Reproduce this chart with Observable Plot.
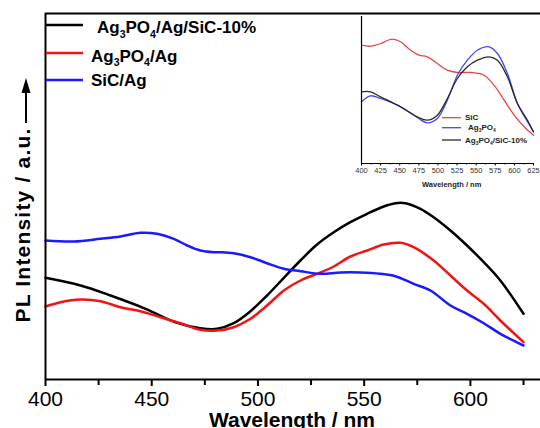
<!DOCTYPE html>
<html><head><meta charset="utf-8">
<script src="https://cdn.jsdelivr.net/npm/d3@7"></script>
<script src="https://cdn.jsdelivr.net/npm/@observablehq/plot@0.6"></script>
<style>
body{margin:0;background:#fff;}
#wrap{position:relative;width:540px;height:428px;overflow:hidden;font-family:"Liberation Sans",Arial,sans-serif;}
#wrap svg{position:absolute;}
</style></head><body><div id="wrap"></div>
<script>
// ---- main chart data (PL intensity, a.u.) ----
const seriesNames = ["Ag3PO4/Ag/SiC-10%", "Ag3PO4/Ag", "SiC/Ag"];
const seriesColors = ["#000000", "#f21414", "#1a1aff"];

const blackWl = [400,416.5,430.6,447.1,461.2,472.9,480.8,488.6,496.5,504.3,512.2,520,527.8,535.7,543.5,551.4,559.2,564.7,569.4,576.5,582.7,590.6,598.4,606.3,614.1,625];
const blackPL = [101.7,94,84,70.7,57.3,51.3,50.7,56.3,68.3,84,101.7,119,135,147.3,157.3,165.7,173,176.3,176.3,170.7,162.3,149,134,117.3,99,65.7];

const redWl = [400,407.1,416.5,425.9,435.3,444.7,454.1,463.5,472.9,480.8,488.6,496.5,504.3,512.2,520,527.8,535.7,543.5,551.4,559.2,567.1,573.3,582.7,590.6,598.4,606.3,614.1,625];
const redPL = [73,77.3,80,78.3,72.3,68.3,62.3,56.3,49.7,49,52.3,60.7,74,89,99,105.7,113,123,129,135,136.7,132.3,119,104,89,75.7,59,37.3];

const blueWl = [400,413.3,425.9,435.3,444.7,452.5,460.4,466.7,472.9,479.2,482.4,488.6,496.5,504.3,512.2,520,529.4,538.8,548.2,557.6,564.7,573.3,581.2,590.6,598.4,606.3,614.1,625];
const bluePL = [139,138,140.7,143,146.7,145.7,140.7,134,129,127.3,127.3,126.3,122.3,116.3,110.7,108.3,105.7,107,107,105.7,103.3,95.7,89,74,65.7,56.3,45.7,34];

const majorTicks = [400,450,500,550,600];
const minorTicks = [425,475,525,575,625];

// ---- inset data ----
const insetNames = ["SiC", "Ag3PO4", "Ag3PO4/SiC-10%"];
const insetColors = ["#e84646", "#4646f0", "#2a2a2a"];

const inSiCWl = [400,411.8,424.9,440.2,451.1,464.2,475.1,486.1,499.2,512.3,525.4,542.9,560.3,573.4,586.6,599.7,612.8,625];
const inSiCPL = [118.3,117.3,120,124.3,121.7,113.3,108.3,106.7,100,93.3,91,91,88.3,78.3,63.3,48.3,36.7,28.3];

const inAgWl = [400,411.8,424.9,451.1,473,486.1,499.2,512.3,525.4,538.5,551.6,566.9,577.8,590.9,604,617.1,625];
const inAgPL = [61.7,67.7,65,56.7,46,40.7,45,63.3,88.3,103.3,113.3,116.7,110,90,60,41.7,31.7];

const inCompWl = [400,411.8,424.9,451.1,473,486.1,499.2,512.3,525.4,538.5,551.6,566.9,577.8,590.9,604,617.1,625];
const inCompPL = [71.7,71.7,66.7,56.7,46.7,43.3,48.3,65,85,96.7,103.3,106.7,103.3,86.7,60,43.3,31.7];

const insetTicks = [400,425,450,475,500,525,550,575,600,625];
const insetMinor = [412.5,437.5,462.5,487.5,512.5,537.5,562.5,587.5,612.5];

// ---- build ----
const rows = (wl, pl, s) => wl.map((w, i) => ({wl: w, pl: pl[i], s}));
const mainData = [
  ...rows(blackWl, blackPL, seriesNames[0]),
  ...rows(redWl, redPL, seriesNames[1]),
  ...rows(blueWl, bluePL, seriesNames[2])
];
const insetData = [
  ...rows(inSiCWl, inSiCPL, insetNames[0]),
  ...rows(inAgWl, inAgPL, insetNames[1]),
  ...rows(inCompWl, inCompPL, insetNames[2])
];
const FONT = '"Liberation Sans", Arial, sans-serif';

const main = Plot.plot({
  width: 540, height: 428,
  marginLeft: 45, marginRight: 0, marginTop: 13, marginBottom: 49,
  style: {fontFamily: FONT, background: "white", overflow: "visible"},
  x: {domain: [400, 633]},
  y: {domain: [0, 366], axis: null},
  color: {domain: seriesNames, range: seriesColors},
  marks: [
    Plot.line(mainData, {x: "wl", y: "pl", z: "s", stroke: "s", strokeWidth: 2.5, curve: "catmull-rom"}),
    Plot.ruleY([0], {strokeWidth: 2}),
    Plot.ruleY([366], {strokeWidth: 2}),
    Plot.ruleX([400], {strokeWidth: 2}),
    Plot.axisX(majorTicks, {tickSize: 7, tickPadding: 5, fontSize: 21, strokeWidth: 2, label: null}),
    Plot.axisX(minorTicks, {tickSize: 6, tickFormat: () => "", strokeWidth: 2, label: null})
  ]
});
main.style.left = "0px"; main.style.top = "0px";

const inset = Plot.plot({
  width: 200, height: 180,
  marginLeft: 21, marginRight: 7, marginTop: 2, marginBottom: 31,
  style: {fontFamily: FONT, background: "transparent", overflow: "visible"},
  x: {domain: [400, 625]},
  y: {domain: [0, 147], axis: null},
  color: {domain: insetNames, range: insetColors},
  marks: [
    Plot.line(insetData, {x: "wl", y: "pl", z: "s", stroke: "s", strokeWidth: 1.3, curve: "catmull-rom"}),
    Plot.ruleY([0], {strokeWidth: 1.2}),
    Plot.ruleX([400], {strokeWidth: 1.2}),
    Plot.axisX(insetTicks, {tickSize: 2.5, tickPadding: 1.5, fontSize: 7.5, label: null, fill: "#333"}),
    Plot.axisX(insetMinor, {tickSize: 1.5, tickFormat: () => "", label: null})
  ]
});
inset.style.left = "340px"; inset.style.top = "14px";

const wrap = document.getElementById("wrap");
wrap.appendChild(main);
wrap.appendChild(inset);

// rich text with subscripts
function rich(sel, x, y, str, size, weight, fill) {
  const t = sel.append("text").attr("x", x).attr("y", y)
    .attr("text-anchor", "start")
    .attr("font-size", size).attr("font-weight", weight).attr("fill", fill)
    .attr("font-family", FONT);
  let shifted = false;
  str.replace(/Ag3PO4/g, "Ag\u00a73PO\u00a74").split(/(\u00a7\d)/).forEach(p => {
    if (p === "") return;
    if (p[0] === "\u00a7") {
      t.append("tspan").attr("font-size", size * 0.62).attr("dy", size * 0.28).text(p.slice(1));
      shifted = true;
    } else {
      const sp = t.append("tspan").text(p);
      if (shifted) { sp.attr("dy", -size * 0.28); shifted = false; }
    }
  });
  return t;
}

// main legend, titles
const ms = d3.select(main);
const legY = [25, 53, 80];
const legTextX = [97, 91, 91];
const legBase = [33, 61.5, 86];
seriesNames.forEach((n, i) => {
  ms.append("line").attr("x1", 46).attr("x2", 83).attr("y1", legY[i]).attr("y2", legY[i])
    .attr("stroke", seriesColors[i]).attr("stroke-width", 2.5);
  rich(ms, legTextX[i], legBase[i], n, 17, "bold", "#000");
});
ms.append("text").attr("x", 292).attr("y", 427).attr("text-anchor", "middle")
  .attr("font-size", 21).attr("font-weight", "bold").attr("font-family", FONT).text("Wavelength / nm");
ms.append("text").attr("transform", "translate(29.5,225) rotate(-90)").attr("text-anchor", "middle")
  .attr("font-size", 21).attr("font-weight", "bold").attr("letter-spacing", 1.2).attr("font-family", FONT)
  .text("PL Intensity / a.u.");
ms.append("line").attr("x1", 26).attr("x2", 26).attr("y1", 123).attr("y2", 90)
  .attr("stroke", "#000").attr("stroke-width", 2);
ms.append("path").attr("d", "M26,78 L21.5,93 L30.5,93 Z").attr("fill", "#000");

// inset legend + title
const is = d3.select(inset);
const inLegY = [103.7, 113.7, 126];
const inTextX = [125, 128, 125];
insetNames.forEach((n, i) => {
  is.append("line").attr("x1", 102).attr("x2", 121).attr("y1", inLegY[i]).attr("y2", inLegY[i])
    .attr("stroke", insetColors[i]).attr("stroke-width", 1.3);
  rich(is, inTextX[i], inLegY[i] + 2.5, n, 8, "bold", "#222");
});
is.append("text").attr("x", 111.7).attr("y", 172.7).attr("text-anchor", "middle")
  .attr("font-size", 7.5).attr("font-weight", "bold").attr("font-family", FONT).attr("fill", "#222")
  .text("Wavelength / nm");
</script>
</body></html>
